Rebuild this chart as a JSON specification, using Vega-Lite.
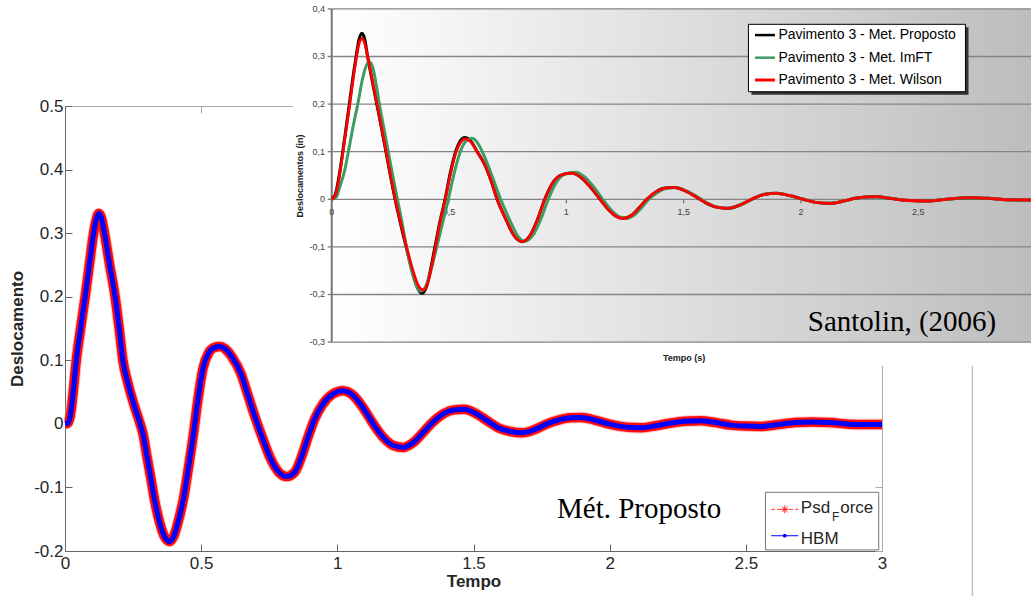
{
"$schema": "https://vega.github.io/schema/vega-lite/v6.json",
"width": 817, "height": 445,
"autosize": {"type": "none"},
"padding": {"left": 65, "top": 106, "right": 149, "bottom": 45},
"background": "white",
"config": {"view": {"stroke": null}, "font": "Liberation Sans"},
"datasets": {
"main": [
{"t":0,"psd":0,"hbm":0},{"t":0.01,"psd":0.001,"hbm":0.001},{"t":0.02,"psd":0.014,"hbm":0.014},{"t":0.03,"psd":0.05,"hbm":0.05},{"t":0.041,"psd":0.098,"hbm":0.098},{"t":0.058,"psd":0.152,"hbm":0.152},{"t":0.074,"psd":0.2,"hbm":0.2},{"t":0.09,"psd":0.252,"hbm":0.252},{"t":0.105,"psd":0.3,"hbm":0.3},{"t":0.115,"psd":0.322,"hbm":0.322},{"t":0.124,"psd":0.331,"hbm":0.331},{"t":0.133,"psd":0.325,"hbm":0.325},{"t":0.145,"psd":0.3,"hbm":0.3},{"t":0.164,"psd":0.25,"hbm":0.25},{"t":0.184,"psd":0.2,"hbm":0.2},{"t":0.199,"psd":0.15,"hbm":0.15},{"t":0.2125,"psd":0.1,"hbm":0.1},{"t":0.231,"psd":0.064,"hbm":0.064},{"t":0.252,"psd":0.032,"hbm":0.032},{"t":0.276,"psd":0,"hbm":0},{"t":0.286,"psd":-0.015,"hbm":-0.015},{"t":0.3,"psd":-0.049,"hbm":-0.049},{"t":0.315,"psd":-0.085,"hbm":-0.085},{"t":0.329,"psd":-0.12,"hbm":-0.12},{"t":0.348,"psd":-0.156,"hbm":-0.156},{"t":0.366,"psd":-0.178,"hbm":-0.178},{"t":0.384,"psd":-0.185,"hbm":-0.185},{"t":0.4,"psd":-0.176,"hbm":-0.176},{"t":0.418,"psd":-0.15,"hbm":-0.15},{"t":0.435,"psd":-0.118,"hbm":-0.118},{"t":0.453,"psd":-0.07,"hbm":-0.07},{"t":0.472,"psd":-0.015,"hbm":-0.015},{"t":0.488,"psd":0.038,"hbm":0.038},{"t":0.507,"psd":0.088,"hbm":0.088},{"t":0.528,"psd":0.112,"hbm":0.112},{"t":0.548,"psd":0.12,"hbm":0.12},{"t":0.568,"psd":0.1216,"hbm":0.1216},{"t":0.588,"psd":0.118,"hbm":0.118},{"t":0.615,"psd":0.104,"hbm":0.104},{"t":0.645,"psd":0.08,"hbm":0.08},{"t":0.672,"psd":0.045,"hbm":0.045},{"t":0.7,"psd":0.008,"hbm":0.008},{"t":0.725,"psd":-0.022,"hbm":-0.022},{"t":0.755,"psd":-0.055,"hbm":-0.055},{"t":0.785,"psd":-0.076,"hbm":-0.076},{"t":0.813,"psd":-0.083,"hbm":-0.083},{"t":0.845,"psd":-0.075,"hbm":-0.075},{"t":0.87,"psd":-0.05,"hbm":-0.05},{"t":0.893,"psd":-0.02,"hbm":-0.02},{"t":0.917,"psd":0.008,"hbm":0.008},{"t":0.945,"psd":0.03,"hbm":0.03},{"t":0.98,"psd":0.046,"hbm":0.046},{"t":1.021,"psd":0.052,"hbm":0.052},{"t":1.06,"psd":0.044,"hbm":0.044},{"t":1.095,"psd":0.025,"hbm":0.025},{"t":1.132,"psd":0,"hbm":0},{"t":1.17,"psd":-0.022,"hbm":-0.022},{"t":1.205,"psd":-0.034,"hbm":-0.034},{"t":1.242,"psd":-0.037,"hbm":-0.037},{"t":1.28,"psd":-0.029,"hbm":-0.029},{"t":1.318,"psd":-0.012,"hbm":-0.012},{"t":1.354,"psd":0.004,"hbm":0.004},{"t":1.39,"psd":0.016,"hbm":0.016},{"t":1.428,"psd":0.022,"hbm":0.022},{"t":1.466,"psd":0.023,"hbm":0.023},{"t":1.51,"psd":0.016,"hbm":0.016},{"t":1.55,"psd":0.005,"hbm":0.005},{"t":1.59,"psd":-0.006,"hbm":-0.006},{"t":1.635,"psd":-0.012,"hbm":-0.012},{"t":1.678,"psd":-0.014,"hbm":-0.014},{"t":1.725,"psd":-0.009,"hbm":-0.009},{"t":1.77,"psd":0,"hbm":0},{"t":1.812,"psd":0.006,"hbm":0.006},{"t":1.855,"psd":0.0095,"hbm":0.0095},{"t":1.896,"psd":0.01,"hbm":0.01},{"t":1.945,"psd":0.006,"hbm":0.006},{"t":1.995,"psd":0,"hbm":0},{"t":2.04,"psd":-0.004,"hbm":-0.004},{"t":2.08,"psd":-0.0058,"hbm":-0.0058},{"t":2.12,"psd":-0.006,"hbm":-0.006},{"t":2.17,"psd":-0.003,"hbm":-0.003},{"t":2.22,"psd":0.001,"hbm":0.001},{"t":2.275,"psd":0.004,"hbm":0.004},{"t":2.332,"psd":0.005,"hbm":0.005},{"t":2.39,"psd":0.002,"hbm":0.002},{"t":2.445,"psd":-0.002,"hbm":-0.002},{"t":2.5,"psd":-0.0035,"hbm":-0.0035},{"t":2.556,"psd":-0.004,"hbm":-0.004},{"t":2.62,"psd":-0.001,"hbm":-0.001},{"t":2.68,"psd":0.002,"hbm":0.002},{"t":2.743,"psd":0.003,"hbm":0.003},{"t":2.81,"psd":0.002,"hbm":0.002},{"t":2.88,"psd":-0.0005,"hbm":-0.0005},{"t":2.94,"psd":-0.0012,"hbm":-0.0012},{"t":3,"psd":-0.001,"hbm":-0.001}
],
"proposto": [
{"t":0,"v":0},{"t":0.015,"v":0.01},{"t":0.03,"v":0.045},{"t":0.047,"v":0.1},{"t":0.075,"v":0.2},{"t":0.09,"v":0.255},{"t":0.104,"v":0.3},{"t":0.116,"v":0.335},{"t":0.128,"v":0.349},{"t":0.14,"v":0.338},{"t":0.153,"v":0.3},{"t":0.172,"v":0.25},{"t":0.192,"v":0.2},{"t":0.212,"v":0.15},{"t":0.231,"v":0.1},{"t":0.25,"v":0.05},{"t":0.27,"v":0},{"t":0.295,"v":-0.055},{"t":0.317,"v":-0.1},{"t":0.34,"v":-0.145},{"t":0.362,"v":-0.182},{"t":0.384,"v":-0.1975},{"t":0.405,"v":-0.182},{"t":0.42,"v":-0.15},{"t":0.44,"v":-0.1},{"t":0.462,"v":-0.045},{"t":0.483,"v":0},{"t":0.505,"v":0.055},{"t":0.528,"v":0.1},{"t":0.548,"v":0.123},{"t":0.568,"v":0.13},{"t":0.59,"v":0.124},{"t":0.62,"v":0.1},{"t":0.65,"v":0.075},{"t":0.68,"v":0.038},{"t":0.705,"v":0},{"t":0.745,"v":-0.045},{"t":0.775,"v":-0.075},{"t":0.812,"v":-0.089},{"t":0.845,"v":-0.076},{"t":0.875,"v":-0.045},{"t":0.908,"v":0},{"t":0.94,"v":0.033},{"t":0.975,"v":0.05},{"t":1.023,"v":0.055},{"t":1.06,"v":0.047},{"t":1.1,"v":0.027},{"t":1.144,"v":0},{"t":1.18,"v":-0.022},{"t":1.21,"v":-0.035},{"t":1.243,"v":-0.04},{"t":1.28,"v":-0.033},{"t":1.31,"v":-0.018},{"t":1.343,"v":0},{"t":1.38,"v":0.015},{"t":1.415,"v":0.023},{"t":1.46,"v":0.025},{"t":1.51,"v":0.017},{"t":1.56,"v":0.003},{"t":1.6,"v":-0.009},{"t":1.645,"v":-0.017},{"t":1.691,"v":-0.019},{"t":1.74,"v":-0.012},{"t":1.79,"v":0},{"t":1.84,"v":0.01},{"t":1.897,"v":0.0126},{"t":1.95,"v":0.008},{"t":2.01,"v":0},{"t":2.07,"v":-0.007},{"t":2.124,"v":-0.0084},{"t":2.18,"v":-0.004},{"t":2.23,"v":0.002},{"t":2.28,"v":0.005},{"t":2.323,"v":0.0055},{"t":2.38,"v":0.002},{"t":2.44,"v":-0.002},{"t":2.536,"v":-0.0036},{"t":2.62,"v":0},{"t":2.72,"v":0.0034},{"t":2.8,"v":0.002},{"t":2.88,"v":-0.001},{"t":2.98,"v":-0.0015}
],
"imft": [
{"t":0,"v":0},{"t":0.02,"v":0.005},{"t":0.035,"v":0.027},{"t":0.055,"v":0.06},{"t":0.071,"v":0.1},{"t":0.09,"v":0.15},{"t":0.111,"v":0.2},{"t":0.13,"v":0.25},{"t":0.145,"v":0.278},{"t":0.16,"v":0.289},{"t":0.175,"v":0.277},{"t":0.19,"v":0.24},{"t":0.203,"v":0.2},{"t":0.222,"v":0.15},{"t":0.241,"v":0.1},{"t":0.26,"v":0.05},{"t":0.28,"v":0},{"t":0.3,"v":-0.05},{"t":0.318,"v":-0.1},{"t":0.338,"v":-0.145},{"t":0.36,"v":-0.18},{"t":0.38,"v":-0.193},{"t":0.4,"v":-0.183},{"t":0.42,"v":-0.155},{"t":0.445,"v":-0.105},{"t":0.47,"v":-0.055},{"t":0.497,"v":0},{"t":0.522,"v":0.055},{"t":0.548,"v":0.1},{"t":0.572,"v":0.122},{"t":0.597,"v":0.128},{"t":0.622,"v":0.118},{"t":0.655,"v":0.085},{"t":0.69,"v":0.04},{"t":0.72,"v":0},{"t":0.76,"v":-0.045},{"t":0.79,"v":-0.075},{"t":0.825,"v":-0.088},{"t":0.858,"v":-0.075},{"t":0.89,"v":-0.043},{"t":0.923,"v":0},{"t":0.955,"v":0.034},{"t":0.99,"v":0.052},{"t":1.04,"v":0.057},{"t":1.075,"v":0.048},{"t":1.115,"v":0.027},{"t":1.155,"v":0},{"t":1.19,"v":-0.022},{"t":1.22,"v":-0.035},{"t":1.253,"v":-0.04},{"t":1.29,"v":-0.033},{"t":1.32,"v":-0.018},{"t":1.352,"v":0},{"t":1.39,"v":0.015},{"t":1.425,"v":0.023},{"t":1.468,"v":0.025},{"t":1.515,"v":0.017},{"t":1.565,"v":0.003},{"t":1.605,"v":-0.009},{"t":1.65,"v":-0.017},{"t":1.695,"v":-0.019},{"t":1.74,"v":-0.012},{"t":1.79,"v":0},{"t":1.84,"v":0.01},{"t":1.897,"v":0.0126},{"t":1.95,"v":0.008},{"t":2.01,"v":0},{"t":2.07,"v":-0.007},{"t":2.124,"v":-0.0084},{"t":2.18,"v":-0.004},{"t":2.23,"v":0.002},{"t":2.28,"v":0.005},{"t":2.323,"v":0.0055},{"t":2.38,"v":0.002},{"t":2.44,"v":-0.002},{"t":2.536,"v":-0.0036},{"t":2.62,"v":0},{"t":2.72,"v":0.0034},{"t":2.8,"v":0.002},{"t":2.88,"v":-0.001},{"t":2.98,"v":-0.0015}
],
"wilson": [
{"t":0,"v":0},{"t":0.015,"v":0.008},{"t":0.03,"v":0.04},{"t":0.048,"v":0.1},{"t":0.077,"v":0.2},{"t":0.092,"v":0.255},{"t":0.106,"v":0.3},{"t":0.118,"v":0.33},{"t":0.13,"v":0.338},{"t":0.142,"v":0.325},{"t":0.155,"v":0.295},{"t":0.173,"v":0.25},{"t":0.193,"v":0.2},{"t":0.213,"v":0.15},{"t":0.232,"v":0.1},{"t":0.251,"v":0.05},{"t":0.271,"v":0},{"t":0.296,"v":-0.054},{"t":0.318,"v":-0.098},{"t":0.342,"v":-0.143},{"t":0.366,"v":-0.178},{"t":0.391,"v":-0.1906},{"t":0.41,"v":-0.175},{"t":0.424,"v":-0.145},{"t":0.442,"v":-0.1},{"t":0.463,"v":-0.045},{"t":0.484,"v":0},{"t":0.506,"v":0.053},{"t":0.529,"v":0.098},{"t":0.55,"v":0.12},{"t":0.57,"v":0.127},{"t":0.592,"v":0.121},{"t":0.621,"v":0.099},{"t":0.651,"v":0.074},{"t":0.68,"v":0.038},{"t":0.705,"v":0},{"t":0.745,"v":-0.045},{"t":0.775,"v":-0.075},{"t":0.812,"v":-0.089},{"t":0.845,"v":-0.076},{"t":0.875,"v":-0.045},{"t":0.908,"v":0},{"t":0.94,"v":0.033},{"t":0.975,"v":0.05},{"t":1.023,"v":0.055},{"t":1.06,"v":0.047},{"t":1.1,"v":0.027},{"t":1.144,"v":0},{"t":1.18,"v":-0.022},{"t":1.21,"v":-0.035},{"t":1.243,"v":-0.04},{"t":1.28,"v":-0.033},{"t":1.31,"v":-0.018},{"t":1.343,"v":0},{"t":1.38,"v":0.015},{"t":1.415,"v":0.023},{"t":1.46,"v":0.025},{"t":1.51,"v":0.017},{"t":1.56,"v":0.003},{"t":1.6,"v":-0.009},{"t":1.645,"v":-0.017},{"t":1.691,"v":-0.019},{"t":1.74,"v":-0.012},{"t":1.79,"v":0},{"t":1.84,"v":0.01},{"t":1.897,"v":0.0126},{"t":1.95,"v":0.008},{"t":2.01,"v":0},{"t":2.07,"v":-0.007},{"t":2.124,"v":-0.0084},{"t":2.18,"v":-0.004},{"t":2.23,"v":0.002},{"t":2.28,"v":0.005},{"t":2.323,"v":0.0055},{"t":2.38,"v":0.002},{"t":2.44,"v":-0.002},{"t":2.536,"v":-0.0036},{"t":2.62,"v":0},{"t":2.72,"v":0.0034},{"t":2.8,"v":0.002},{"t":2.88,"v":-0.001},{"t":2.98,"v":-0.0015}
],
"yticks": [
{"v":0.4,"label":"0,4"},{"v":0.3,"label":"0,3"},{"v":0.2,"label":"0,2"},{"v":0.1,"label":"0,1"},{"v":0,"label":"0"},{"v":-0.1,"label":"-0,1"},{"v":-0.2,"label":"-0,2"},{"v":-0.3,"label":"-0,3"}
],
"xticks": [
{"t":0,"label":"0"},{"t":0.5,"label":"0,5"},{"t":1,"label":"1"},{"t":1.5,"label":"1,5"},{"t":2,"label":"2"},{"t":2.5,"label":"2,5"}
]
},
"resolve": {"scale": {"x": "independent", "y": "independent"}},
"layer": [
{
"resolve": {"axis": {"x": "independent", "y": "independent"}},
"layer": [
{"data": {"name": "main"},
 "mark": {"type": "line", "interpolate": "monotone", "color": "#ff9c9c", "strokeWidth": 11.5, "opacity": 0.6},
 "encoding": {
  "x": {"field": "t", "type": "quantitative", "scale": {"domain": [0, 3], "nice": false, "zero": false},
        "axis": {"orient": "bottom", "values": [0, 0.5, 1, 1.5, 2, 2.5, 3], "labelExpr": "toString(datum.value)", "labelFlush": false, "labelOverlap": false, "labelBound": false, "labelFont": "Liberation Sans", "labelFontSize": 17, "labelColor": "#262626", "tickSize": -7, "tickColor": "#666", "domainColor": "#666", "labelPadding": 11, "grid": false, "title": "Tempo", "titleFont": "Liberation Sans", "titleFontSize": 17, "titleFontWeight": "bold", "titleColor": "#262626", "titlePadding": 2}},
  "y": {"field": "psd", "type": "quantitative", "scale": {"domain": [-0.2, 0.5], "nice": false, "zero": false},
        "axis": {"orient": "left", "values": [-0.2, -0.1, 0, 0.1, 0.2, 0.3, 0.4, 0.5], "labelExpr": "toString(datum.value)", "labelFlush": false, "labelOverlap": false, "labelBound": false, "labelFont": "Liberation Sans", "labelFontSize": 17, "labelColor": "#262626", "tickSize": -7, "tickColor": "#666", "domainColor": "#666", "labelPadding": 9, "grid": false, "title": "Deslocamento", "titleFont": "Liberation Sans", "titleFontSize": 17, "titleFontWeight": "bold", "titleColor": "#262626", "titlePadding": 7}}
 }},
{"data": {"name": "main"},
 "mark": {"type": "line", "interpolate": "monotone", "color": "#ff0a0a", "strokeWidth": 9.5},
 "encoding": {
  "x": {"field": "t", "type": "quantitative", "scale": {"domain": [0, 3], "nice": false, "zero": false},
        "axis": {"orient": "top", "values": [0, 0.5, 1, 1.5, 2, 2.5, 3], "labels": false, "title": null, "tickSize": -7, "tickColor": "#aaa", "domainColor": "#aaa", "grid": false}},
  "y": {"field": "psd", "type": "quantitative", "scale": {"domain": [-0.2, 0.5], "nice": false, "zero": false},
        "axis": {"orient": "right", "values": [-0.2, -0.1, 0, 0.1, 0.2, 0.3, 0.4, 0.5], "labels": false, "title": null, "tickSize": -7, "tickColor": "#aaa", "domainColor": "#aaa", "grid": false}}
 }},
{"data": {"name": "main"},
 "mark": {"type": "line", "interpolate": "monotone", "color": "#0000ff", "strokeWidth": 5},
 "encoding": {
  "x": {"field": "t", "type": "quantitative", "scale": {"domain": [0, 3], "nice": false, "zero": false}, "axis": null},
  "y": {"field": "hbm", "type": "quantitative", "scale": {"domain": [-0.2, 0.5], "nice": false, "zero": false}, "axis": null}
 }},
{"data": {"values": [{}]},
 "mark": {"type": "rect", "fill": "white", "stroke": "#777777", "strokeWidth": 1},
 "encoding": {
  "x": {"datum": 2.572, "type": "quantitative", "scale": {"domain": [0, 3], "nice": false, "zero": false}, "axis": null},
  "x2": {"datum": 2.988},
  "y": {"datum": -0.1077, "type": "quantitative", "scale": {"domain": [-0.2, 0.5], "nice": false, "zero": false}, "axis": null},
  "y2": {"datum": -0.1983}
 }},
{"data": {"values": [{}]},
 "mark": {"type": "rule", "color": "#ff3030", "strokeWidth": 1, "strokeDash": [4, 2]},
 "encoding": {
  "x": {"datum": 2.593, "type": "quantitative", "scale": {"domain": [0, 3], "nice": false, "zero": false}, "axis": null},
  "x2": {"datum": 2.693},
  "y": {"datum": -0.1344, "type": "quantitative", "scale": {"domain": [-0.2, 0.5], "nice": false, "zero": false}, "axis": null}
 }},
{"data": {"values": [{}]},
 "mark": {"type": "point", "shape": "M-1,0L1,0M0,-1L0,1M-0.7,-0.7L0.7,0.7M-0.7,0.7L0.7,-0.7", "size": 60, "filled": false, "stroke": "#ff2020", "strokeWidth": 1, "opacity": 1},
 "encoding": {
  "x": {"datum": 2.643, "type": "quantitative", "scale": {"domain": [0, 3], "nice": false, "zero": false}, "axis": null},
  "y": {"datum": -0.1344, "type": "quantitative", "scale": {"domain": [-0.2, 0.5], "nice": false, "zero": false}, "axis": null}
 }},
{"data": {"values": [{}]},
 "mark": {"type": "rule", "color": "#0000ff", "strokeWidth": 1},
 "encoding": {
  "x": {"datum": 2.593, "type": "quantitative", "scale": {"domain": [0, 3], "nice": false, "zero": false}, "axis": null},
  "x2": {"datum": 2.693},
  "y": {"datum": -0.176, "type": "quantitative", "scale": {"domain": [-0.2, 0.5], "nice": false, "zero": false}, "axis": null}
 }},
{"data": {"values": [{}]},
 "mark": {"type": "point", "shape": "circle", "size": 14, "filled": true, "color": "#0000ff", "opacity": 1},
 "encoding": {
  "x": {"datum": 2.643, "type": "quantitative", "scale": {"domain": [0, 3], "nice": false, "zero": false}, "axis": null},
  "y": {"datum": -0.176, "type": "quantitative", "scale": {"domain": [-0.2, 0.5], "nice": false, "zero": false}, "axis": null}
 }},
{"data": {"values": [{"label": "Psd"}]},
 "mark": {"type": "text", "font": "Liberation Sans", "fontSize": 17, "align": "left", "baseline": "alphabetic", "color": "#262626"},
 "encoding": {
  "x": {"datum": 2.702, "type": "quantitative", "scale": {"domain": [0, 3], "nice": false, "zero": false}, "axis": null},
  "y": {"datum": -0.1398, "type": "quantitative", "scale": {"domain": [-0.2, 0.5], "nice": false, "zero": false}, "axis": null},
  "text": {"field": "label"}
 }},
{"data": {"values": [{"label": "F"}]},
 "mark": {"type": "text", "font": "Liberation Sans", "fontSize": 12, "align": "left", "baseline": "alphabetic", "color": "#262626"},
 "encoding": {
  "x": {"datum": 2.816, "type": "quantitative", "scale": {"domain": [0, 3], "nice": false, "zero": false}, "axis": null},
  "y": {"datum": -0.1525, "type": "quantitative", "scale": {"domain": [-0.2, 0.5], "nice": false, "zero": false}, "axis": null},
  "text": {"field": "label"}
 }},
{"data": {"values": [{"label": "orce"}]},
 "mark": {"type": "text", "font": "Liberation Sans", "fontSize": 17, "align": "left", "baseline": "alphabetic", "color": "#262626"},
 "encoding": {
  "x": {"datum": 2.8466, "type": "quantitative", "scale": {"domain": [0, 3], "nice": false, "zero": false}, "axis": null},
  "y": {"datum": -0.1398, "type": "quantitative", "scale": {"domain": [-0.2, 0.5], "nice": false, "zero": false}, "axis": null},
  "text": {"field": "label"}
 }},
{"data": {"values": [{"label": "HBM"}]},
 "mark": {"type": "text", "font": "Liberation Sans", "fontSize": 17, "align": "left", "baseline": "alphabetic", "color": "#262626"},
 "encoding": {
  "x": {"datum": 2.702, "type": "quantitative", "scale": {"domain": [0, 3], "nice": false, "zero": false}, "axis": null},
  "y": {"datum": -0.1893, "type": "quantitative", "scale": {"domain": [-0.2, 0.5], "nice": false, "zero": false}, "axis": null},
  "text": {"field": "label"}
 }},
{"data": {"values": [{"label": "Mét. Proposto"}]},
 "mark": {"type": "text", "font": "Liberation Serif", "fontSize": 29, "align": "left", "baseline": "alphabetic", "color": "black"},
 "encoding": {
  "x": {"datum": 1.8066, "type": "quantitative", "scale": {"domain": [0, 3], "nice": false, "zero": false}, "axis": null},
  "y": {"datum": -0.1478, "type": "quantitative", "scale": {"domain": [-0.2, 0.5], "nice": false, "zero": false}, "axis": null},
  "text": {"field": "label"}
 }},
{"data": {"values": [{}]},
 "mark": {"type": "rule", "color": "#aaaaaa", "strokeWidth": 1},
 "encoding": {
  "x": {"datum": 3.3316, "type": "quantitative", "scale": {"domain": [0, 3], "nice": false, "zero": false}, "axis": null},
  "y": {"datum": 0.0912, "type": "quantitative", "scale": {"domain": [-0.2, 0.5], "nice": false, "zero": false}, "axis": null},
  "y2": {"datum": -0.28}
 }}
]
},
{
"layer": [
{"data": {"values": [{}]},
 "mark": {"type": "rect", "fill": "white"},
 "encoding": {
  "x": {"datum": -0.165, "type": "quantitative", "scale": {"domain": [-1.1368, 2.3453], "nice": false, "zero": false}, "axis": null},
  "x2": {"datum": 3.2},
  "y": {"datum": -0.3502, "type": "quantitative", "scale": {"domain": [-0.7389, 0.196], "nice": false, "zero": false}, "axis": null},
  "y2": {"datum": 0.5}
 }},
{"data": {"values": [{}]},
 "mark": {"type": "rect", "fill": {"gradient": "linear", "x1": 0, "y1": 0, "x2": 1, "y2": 0, "stops": [{"offset": 0, "color": "#ffffff"}, {"offset": 0.08, "color": "#fafafa"}, {"offset": 1, "color": "#bdbdbd"}]}},
 "encoding": {
  "x": {"datum": 0, "type": "quantitative", "scale": {"domain": [-1.1368, 2.3453], "nice": false, "zero": false}, "axis": null},
  "x2": {"datum": 2.985},
  "y": {"datum": -0.3, "type": "quantitative", "scale": {"domain": [-0.7389, 0.196], "nice": false, "zero": false}, "axis": null},
  "y2": {"datum": 0.4}
 }},
{"data": {"name": "yticks"},
 "mark": {"type": "rule", "color": "#858585", "strokeWidth": 1.3},
 "encoding": {
  "x": {"datum": 0, "type": "quantitative", "scale": {"domain": [-1.1368, 2.3453], "nice": false, "zero": false}, "axis": null},
  "x2": {"datum": 2.985},
  "y": {"field": "v", "type": "quantitative", "scale": {"domain": [-0.7389, 0.196], "nice": false, "zero": false}, "axis": null}
 }},
{"data": {"values": [{}]},
 "mark": {"type": "rule", "color": "#777777", "strokeWidth": 2},
 "encoding": {
  "x": {"datum": 0, "type": "quantitative", "scale": {"domain": [-1.1368, 2.3453], "nice": false, "zero": false}, "axis": null},
  "y": {"datum": -0.3, "type": "quantitative", "scale": {"domain": [-0.7389, 0.196], "nice": false, "zero": false}, "axis": null},
  "y2": {"datum": 0.4}
 }},
{"data": {"name": "yticks"},
 "mark": {"type": "rule", "color": "#777777", "strokeWidth": 1.3},
 "encoding": {
  "x": {"datum": -0.017, "type": "quantitative", "scale": {"domain": [-1.1368, 2.3453], "nice": false, "zero": false}, "axis": null},
  "x2": {"datum": 0},
  "y": {"field": "v", "type": "quantitative", "scale": {"domain": [-0.7389, 0.196], "nice": false, "zero": false}, "axis": null}
 }},
{"data": {"name": "xticks"},
 "mark": {"type": "rule", "color": "#777777", "strokeWidth": 1.3},
 "encoding": {
  "x": {"field": "t", "type": "quantitative", "scale": {"domain": [-1.1368, 2.3453], "nice": false, "zero": false}, "axis": null},
  "y": {"datum": 0, "type": "quantitative", "scale": {"domain": [-0.7389, 0.196], "nice": false, "zero": false}, "axis": null},
  "y2": {"datum": -0.0084}
 }},
{"data": {"name": "yticks"},
 "mark": {"type": "text", "font": "Liberation Sans", "fontSize": 9, "align": "right", "baseline": "middle", "color": "#404040"},
 "encoding": {
  "x": {"datum": -0.0286, "type": "quantitative", "scale": {"domain": [-1.1368, 2.3453], "nice": false, "zero": false}, "axis": null},
  "y": {"field": "v", "type": "quantitative", "scale": {"domain": [-0.7389, 0.196], "nice": false, "zero": false}, "axis": null},
  "text": {"field": "label"}
 }},
{"data": {"name": "xticks"},
 "mark": {"type": "text", "font": "Liberation Sans", "fontSize": 9, "align": "center", "baseline": "middle", "color": "#404040"},
 "encoding": {
  "x": {"field": "t", "type": "quantitative", "scale": {"domain": [-1.1368, 2.3453], "nice": false, "zero": false}, "axis": null},
  "y": {"datum": -0.0267, "type": "quantitative", "scale": {"domain": [-0.7389, 0.196], "nice": false, "zero": false}, "axis": null},
  "text": {"field": "label"}
 }},
{"data": {"name": "proposto"},
 "mark": {"type": "line", "interpolate": "monotone", "color": "#000000", "strokeWidth": 3},
 "encoding": {
  "x": {"field": "t", "type": "quantitative", "scale": {"domain": [-1.1368, 2.3453], "nice": false, "zero": false}, "axis": null},
  "y": {"field": "v", "type": "quantitative", "scale": {"domain": [-0.7389, 0.196], "nice": false, "zero": false}, "axis": null}
 }},
{"data": {"name": "imft"},
 "mark": {"type": "line", "interpolate": "monotone", "color": "#3d9b64", "strokeWidth": 3},
 "encoding": {
  "x": {"field": "t", "type": "quantitative", "scale": {"domain": [-1.1368, 2.3453], "nice": false, "zero": false}, "axis": null},
  "y": {"field": "v", "type": "quantitative", "scale": {"domain": [-0.7389, 0.196], "nice": false, "zero": false}, "axis": null}
 }},
{"data": {"name": "wilson"},
 "mark": {"type": "line", "interpolate": "monotone", "color": "#ff0000", "strokeWidth": 2.8},
 "encoding": {
  "x": {"field": "t", "type": "quantitative", "scale": {"domain": [-1.1368, 2.3453], "nice": false, "zero": false}, "axis": null},
  "y": {"field": "v", "type": "quantitative", "scale": {"domain": [-0.7389, 0.196], "nice": false, "zero": false}, "axis": null}
 }},
{"data": {"values": [{}]},
 "mark": {"type": "rect", "fill": "#333333"},
 "encoding": {
  "x": {"datum": 1.789, "type": "quantitative", "scale": {"domain": [-1.1368, 2.3453], "nice": false, "zero": false}, "axis": null},
  "x2": {"datum": 2.714},
  "y": {"datum": 0.2197, "type": "quantitative", "scale": {"domain": [-0.7389, 0.196], "nice": false, "zero": false}, "axis": null},
  "y2": {"datum": 0.3613}
 }},
{"data": {"values": [{}]},
 "mark": {"type": "rect", "fill": "white", "stroke": "#000000", "strokeWidth": 1},
 "encoding": {
  "x": {"datum": 1.776, "type": "quantitative", "scale": {"domain": [-1.1368, 2.3453], "nice": false, "zero": false}, "axis": null},
  "x2": {"datum": 2.701},
  "y": {"datum": 0.226, "type": "quantitative", "scale": {"domain": [-0.7389, 0.196], "nice": false, "zero": false}, "axis": null},
  "y2": {"datum": 0.3676}
 }},
{"data": {"values": [{}]},
 "mark": {"type": "rule", "color": "#000000", "strokeWidth": 2.5},
 "encoding": {
  "x": {"datum": 1.804, "type": "quantitative", "scale": {"domain": [-1.1368, 2.3453], "nice": false, "zero": false}, "axis": null},
  "x2": {"datum": 1.889},
  "y": {"datum": 0.345, "type": "quantitative", "scale": {"domain": [-0.7389, 0.196], "nice": false, "zero": false}, "axis": null}
 }},
{"data": {"values": [{}]},
 "mark": {"type": "rule", "color": "#3d9b64", "strokeWidth": 2.5},
 "encoding": {
  "x": {"datum": 1.804, "type": "quantitative", "scale": {"domain": [-1.1368, 2.3453], "nice": false, "zero": false}, "axis": null},
  "x2": {"datum": 1.889},
  "y": {"datum": 0.2975, "type": "quantitative", "scale": {"domain": [-0.7389, 0.196], "nice": false, "zero": false}, "axis": null}
 }},
{"data": {"values": [{}]},
 "mark": {"type": "rule", "color": "#ff0000", "strokeWidth": 3},
 "encoding": {
  "x": {"datum": 1.804, "type": "quantitative", "scale": {"domain": [-1.1368, 2.3453], "nice": false, "zero": false}, "axis": null},
  "x2": {"datum": 1.889},
  "y": {"datum": 0.2506, "type": "quantitative", "scale": {"domain": [-0.7389, 0.196], "nice": false, "zero": false}, "axis": null}
 }},
{"data": {"values": [{"label": "Pavimento 3 - Met. Proposto"}]},
 "mark": {"type": "text", "font": "Liberation Sans", "fontSize": 14, "align": "left", "baseline": "middle", "color": "#000000"},
 "encoding": {
  "x": {"datum": 1.9037, "type": "quantitative", "scale": {"domain": [-1.1368, 2.3453], "nice": false, "zero": false}, "axis": null},
  "y": {"datum": 0.345, "type": "quantitative", "scale": {"domain": [-0.7389, 0.196], "nice": false, "zero": false}, "axis": null},
  "text": {"field": "label"}
 }},
{"data": {"values": [{"label": "Pavimento 3 - Met. ImFT"}]},
 "mark": {"type": "text", "font": "Liberation Sans", "fontSize": 14, "align": "left", "baseline": "middle", "color": "#000000"},
 "encoding": {
  "x": {"datum": 1.9037, "type": "quantitative", "scale": {"domain": [-1.1368, 2.3453], "nice": false, "zero": false}, "axis": null},
  "y": {"datum": 0.2975, "type": "quantitative", "scale": {"domain": [-0.7389, 0.196], "nice": false, "zero": false}, "axis": null},
  "text": {"field": "label"}
 }},
{"data": {"values": [{"label": "Pavimento 3 - Met. Wilson"}]},
 "mark": {"type": "text", "font": "Liberation Sans", "fontSize": 14, "align": "left", "baseline": "middle", "color": "#000000"},
 "encoding": {
  "x": {"datum": 1.9037, "type": "quantitative", "scale": {"domain": [-1.1368, 2.3453], "nice": false, "zero": false}, "axis": null},
  "y": {"datum": 0.2506, "type": "quantitative", "scale": {"domain": [-0.7389, 0.196], "nice": false, "zero": false}, "axis": null},
  "text": {"field": "label"}
 }},
{"data": {"values": [{"label": "Santolin, (2006)"}]},
 "mark": {"type": "text", "font": "Liberation Serif", "fontSize": 29, "align": "left", "baseline": "alphabetic", "color": "#000000"},
 "encoding": {
  "x": {"datum": 2.029, "type": "quantitative", "scale": {"domain": [-1.1368, 2.3453], "nice": false, "zero": false}, "axis": null},
  "y": {"datum": -0.276, "type": "quantitative", "scale": {"domain": [-0.7389, 0.196], "nice": false, "zero": false}, "axis": null},
  "text": {"field": "label"}
 }},
{"data": {"values": [{"label": "Deslocamentos (in)"}]},
 "mark": {"type": "text", "font": "Liberation Sans", "fontSize": 9, "fontWeight": "bold", "angle": 270, "align": "center", "baseline": "middle", "color": "#222222"},
 "encoding": {
  "x": {"datum": -0.135, "type": "quantitative", "scale": {"domain": [-1.1368, 2.3453], "nice": false, "zero": false}, "axis": null},
  "y": {"datum": 0.049, "type": "quantitative", "scale": {"domain": [-0.7389, 0.196], "nice": false, "zero": false}, "axis": null},
  "text": {"field": "label"}
 }},
{"data": {"values": [{"label": "Tempo (s)"}]},
 "mark": {"type": "text", "font": "Liberation Sans", "fontSize": 9, "fontWeight": "bold", "align": "center", "baseline": "middle", "color": "#222222"},
 "encoding": {
  "x": {"datum": 1.5017, "type": "quantitative", "scale": {"domain": [-1.1368, 2.3453], "nice": false, "zero": false}, "axis": null},
  "y": {"datum": -0.3334, "type": "quantitative", "scale": {"domain": [-0.7389, 0.196], "nice": false, "zero": false}, "axis": null},
  "text": {"field": "label"}
 }}
]
}
]
}
